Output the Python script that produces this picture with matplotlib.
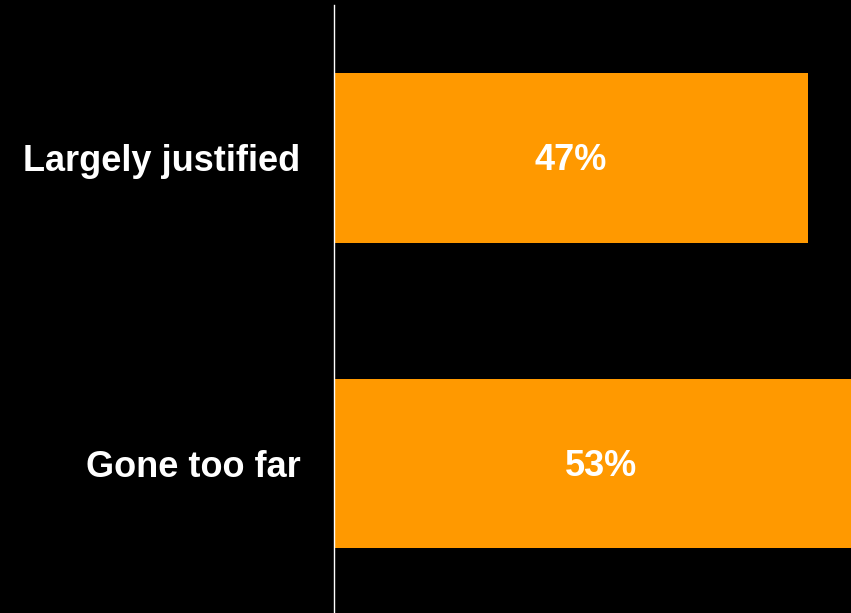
import matplotlib.pyplot as plt
from matplotlib import font_manager

categories = ["Largely justified", "Gone too far"]
values = [47, 53]

# pick the regular-width Liberation Sans Bold file (not the Narrow one)
bold_file = None
for f in font_manager.findSystemFonts():
    if f.endswith('LiberationSans-Bold.ttf'):
        bold_file = f
        break
if bold_file:
    font_manager.fontManager.addfont(bold_file)
    fp = font_manager.FontProperties(fname=bold_file, size=26)
else:
    fp = font_manager.FontProperties(family='Liberation Sans', weight='bold', size=26)

fig = plt.figure(figsize=(8.51, 6.13), dpi=100, facecolor='black')
ax = fig.add_axes([334/851, 0, 517/851, 608/613])
ax.set_facecolor('black')

pos = list(range(len(categories)))
ax.barh(pos, values, height=0.555, color='#FF9900')
for p, v in zip(pos, values):
    ax.text(v / 2, p + 0.01, f"{v}%", ha='center', va='center', color='white',
            fontproperties=fp)

ax.set_xlim(0, 51.26)
ax.set_ylim(1.49, -0.5)
ax.set_yticks(pos)
ax.set_yticklabels(categories, color='white', fontproperties=fp)
ax.tick_params(axis='y', length=0, pad=24)
ax.set_xticks([])
for s in ['top', 'right', 'bottom']:
    ax.spines[s].set_visible(False)
ax.spines['left'].set_color('white')
ax.spines['left'].set_linewidth(1)

fig.savefig('out.png', dpi=100, facecolor='black')
